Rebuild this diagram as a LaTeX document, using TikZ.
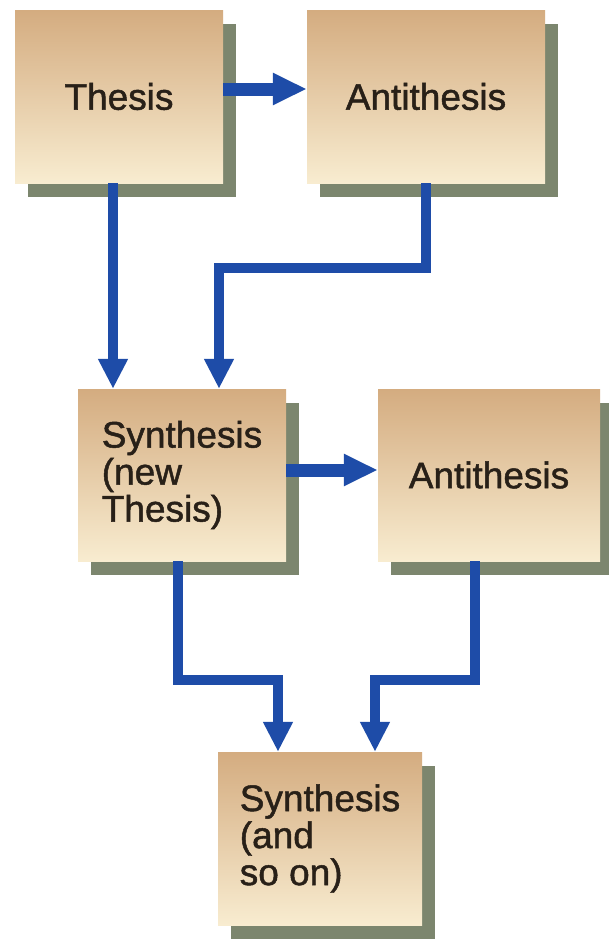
\documentclass[tikz,border=0pt]{standalone}
\usepackage{fontspec}
\setmainfont{Liberation Sans}
\newfontfamily\cardfont[FakeBold=1.3]{Liberation Sans}
\usetikzlibrary{arrows.meta,shadows}
\definecolor{boxtop}{RGB}{212,172,128}
\definecolor{boxbot}{RGB}{248,236,208}
\definecolor{shadowc}{RGB}{124,134,110}
\definecolor{arrowc}{RGB}{30,76,168}
\definecolor{textc}{RGB}{40,32,24}
\begin{document}
\begin{tikzpicture}[x=1pt,y=-1pt,
  card/.style={rectangle, inner sep=0pt, top color=boxtop, bottom color=boxbot,
    align=left, text=textc, font=\cardfont\fontsize{37}{37}\selectfont,
    drop shadow={shadow xshift=13pt, shadow yshift=-14pt, fill=shadowc, opacity=1}},
  flow/.style={draw=arrowc, line width=10pt, line join=miter,
    -{Triangle[width=28pt,length=30pt]}},
  hflow/.style={draw=arrowc, line width=13pt,
    -{Triangle[width=30pt,length=34pt]}}]
\fill[white] (0,0) rectangle (609,940);
\useasboundingbox (0,0) rectangle (609,940);

\node[card, minimum width=208pt, minimum height=173pt] (thesis) at (119,96.5) {Thesis};
\node[card, minimum width=238pt, minimum height=173pt] (anti1) at (426,96.5) {Antithesis};
\node[card, minimum width=208pt, minimum height=172pt] (synth) at (182,475) {Synthesis\\(new\\Thesis)};
\node[card, minimum width=222pt, minimum height=172pt] (anti2) at (489,475) {Antithesis};
\node[card, minimum width=204pt, minimum height=173pt] (synth2) at (320,838.5) {Synthesis\\(and\\so on)};

\coordinate (a1) at (426,268);
\coordinate (a2) at (219,268);
\coordinate (s1) at (178,680);
\coordinate (s2) at (278,680);
\coordinate (b1) at (475,680);
\coordinate (b2) at (375,680);

\draw[hflow] (thesis.east |- 0,89) -- (anti1.west |- 0,89);
\draw[hflow] (synth.east |- 0,470) -- (anti2.west |- 0,470);
\draw[flow] (thesis.south -| 113,0) -- (synth.north -| 113,0);
\draw[flow] (anti1.south) -- (a1) -- (a2) -- (synth.north -| a2);
\draw[flow] (synth.south -| s1) -- (s1) -- (s2) -- (synth2.north -| s2);
\draw[flow] (anti2.south -| b1) -- (b1) -- (b2) -- (synth2.north -| b2);
\end{tikzpicture}
\end{document}
